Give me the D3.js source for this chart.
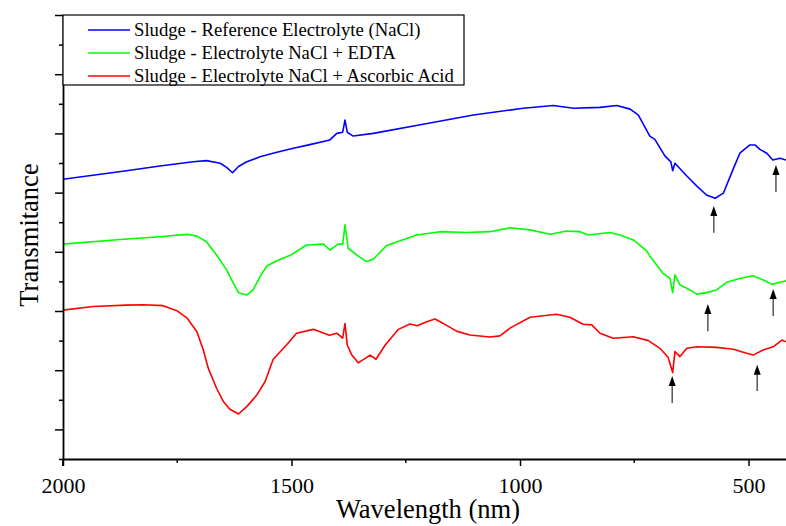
<!DOCTYPE html>
<html>
<head>
<meta charset="utf-8">
<script src="https://d3js.org/d3.v7.min.js"></script>
<style>
  body { margin: 0; background: #fff; }
</style>
</head>
<body>
<div id="vis"><svg></svg></div>
<script>
var width = 786, height = 526
var margin = { top: 15, left: 63, bottom: 67, right: 0 }
var serif = "'Liberation Serif', 'Times New Roman', Times, serif"

// wavelength (nm) and transmittance (a.u.)
var seriesNames = ['Sludge - Reference Electrolyte (NaCl)', 'Sludge - Electrolyte NaCl + EDTA', 'Sludge - Electrolyte NaCl + Ascorbic Acid']
var seriesColors = ['#0000ff', '#00ff00', '#ff0000']

var blueNm = [2000,1861,1788,1715,1686,1656,1642,1629,1616,1598,1569,1532,1496,1460,1416,1401,1388,1383,1378,1365,1321,1212,1102,993,927,883,825,788,759,741,716,705,683,670,666,661,635,613,592,573,555,533,519,497,486,475,460,447,431,418]
var blueT = [9.45,9.74,9.90,10.04,10.08,9.99,9.85,9.67,9.88,10.04,10.21,10.36,10.50,10.62,10.78,11.00,11.04,11.45,11.04,10.91,11.00,11.31,11.62,11.85,11.94,11.85,11.88,11.94,11.82,11.62,10.91,10.80,10.24,10.04,9.74,9.99,9.56,9.22,8.92,8.81,8.98,9.82,10.33,10.61,10.61,10.46,10.33,10.10,10.16,10.10]

var greenNm = [2000,1861,1788,1729,1707,1686,1664,1642,1631,1616,1598,1584,1569,1554,1532,1503,1467,1430,1416,1398,1388,1383,1376,1357,1336,1321,1292,1226,1175,1117,1066,1022,978,934,898,869,851,803,781,752,723,716,687,672,666,661,650,635,613,592,570,548,519,490,468,449,431,418]
var greenT = [7.26,7.43,7.51,7.59,7.53,7.34,6.89,6.39,6.05,5.62,5.54,5.71,6.16,6.52,6.70,6.88,7.23,7.26,7.06,7.26,7.26,7.91,7.12,6.89,6.67,6.75,7.21,7.57,7.68,7.65,7.68,7.81,7.74,7.59,7.70,7.68,7.57,7.65,7.57,7.40,7.03,6.86,6.27,6.10,5.62,6.22,5.88,5.77,5.57,5.62,5.71,5.97,6.10,6.19,6.05,5.90,5.97,6.02]

var redNm = [2000,1934,1861,1824,1781,1751,1729,1707,1693,1682,1664,1649,1635,1616,1598,1576,1558,1540,1511,1489,1452,1417,1401,1388,1383,1378,1368,1354,1328,1315,1295,1266,1241,1225,1204,1186,1168,1139,1110,1066,1044,1022,978,920,891,862,843,825,796,752,719,694,676,666,661,650,635,613,570,533,504,490,468,446,427,418]
var redT = [5.03,5.15,5.20,5.21,5.18,5.01,4.77,4.30,3.68,3.06,2.39,1.94,1.68,1.52,1.77,2.16,2.61,3.37,3.85,4.25,4.38,4.18,4.25,4.08,4.58,3.85,3.51,3.25,3.51,3.37,3.85,4.38,4.56,4.50,4.64,4.73,4.58,4.32,4.19,4.12,4.16,4.42,4.79,4.89,4.79,4.55,4.53,4.25,4.08,4.13,4.00,3.74,3.44,2.92,3.63,3.46,3.74,3.79,3.77,3.71,3.57,3.51,3.68,3.79,4.02,3.96]

// arrows: wavelength, tip, tail
var arrowNm = [576, 440, 589, 446, 667, 481]
var arrowTip = [8.55, 9.93, 5.24, 5.74, 2.80, 3.18]
var arrowTail = [7.64, 9.02, 4.32, 4.83, 1.89, 2.30]

var xTicks = [2000, 1500, 1000, 500]
var xMinor = [1750, 1250, 750]

var svg = d3.select('#vis').select('svg')
  .attr('width', width).attr('height', height)
  .style('font-family', serif)

var plotW = width - margin.left - margin.right
var plotH = height - margin.top - margin.bottom

var x = d3.scaleLinear().domain([2000, 418]).range([0, plotW])
var y = d3.scaleLinear().domain([0, 15]).range([plotH, 0])

var g = svg.append('g')
  .attr('transform', 'translate(' + margin.left + ',' + margin.top + ')')

var series = [
  blueNm.map((d, i) => ({ nm: d, t: blueT[i] })),
  greenNm.map((d, i) => ({ nm: d, t: greenT[i] })),
  redNm.map((d, i) => ({ nm: d, t: redT[i] }))
]

var line = d3.line().x(d => x(d.nm)).y(d => y(d.t))

g.selectAll('.spec')
  .data(series)
  .enter().append('path')
  .attr('class', 'spec')
  .attr('fill', 'none')
  .attr('stroke', (d, i) => seriesColors[i])
  .attr('stroke-width', 1.6)
  .attr('stroke-linejoin', 'round')
  .attr('d', line)

// arrows
var arrows = g.selectAll('.arrow')
  .data(arrowNm)
  .enter().append('g').attr('class', 'arrow')
arrows.append('line')
  .attr('x1', d => x(d)).attr('x2', d => x(d))
  .attr('y1', (d, i) => y(arrowTip[i]) + 6)
  .attr('y2', (d, i) => y(arrowTail[i]))
  .attr('stroke', '#555').attr('stroke-width', 1.5)
arrows.append('path')
  .attr('d', (d, i) => {
    var ax = x(d), ay = y(arrowTip[i])
    return 'M' + ax + ',' + ay + 'L' + (ax - 3.5) + ',' + (ay + 10) + 'L' + (ax + 3.5) + ',' + (ay + 10) + 'Z'
  })
  .attr('fill', '#000')

// x axis
var xAxis = d3.axisBottom(x).tickValues(xTicks).tickSize(7).tickSizeOuter(0).tickFormat(d3.format('d'))
var gx = g.append('g').attr('transform', 'translate(0,' + plotH + ')').call(xAxis)
gx.attr('font-family', null).attr('font-size', null)
gx.select('.domain').attr('stroke-width', 1.8)
gx.selectAll('.tick line').attr('stroke-width', 1.5)
gx.selectAll('.tick text').attr('y', 34).attr('dy', null)
  .style('font-family', serif).style('font-size', '22px')
gx.selectAll('.minor')
  .data(xMinor)
  .enter().append('line')
  .attr('class', 'minor')
  .attr('x1', d => x(d)).attr('x2', d => x(d))
  .attr('y1', 0).attr('y2', 4)
  .attr('stroke', '#000').attr('stroke-width', 1.5)

// y axis, no labels; major ticks on odd units
var yAxis = d3.axisLeft(y).ticks(15).tickSizeOuter(0).tickFormat('')
var gy = g.append('g').call(yAxis)
gy.select('.domain').attr('stroke-width', 1.8)
gy.selectAll('.tick line')
  .attr('x2', d => (d % 2 === 1 ? -8 : -4))
  .attr('stroke-width', 1.5)
gy.append('line').attr('x1', 0).attr('x2', 0).attr('y1', plotH).attr('y2', plotH + 7)
  .attr('stroke', '#000').attr('stroke-width', 1.8)

// axis titles
svg.append('text')
  .attr('x', 428).attr('y', 518)
  .attr('text-anchor', 'middle')
  .style('font-family', serif).style('font-size', '26.5px')
  .text('Wavelength (nm)')
svg.append('text')
  .attr('transform', 'translate(38,235) rotate(-90)')
  .attr('text-anchor', 'middle')
  .style('font-family', serif).style('font-size', '26.5px')
  .text('Transmitance')

// legend
var legend = g.append('g')
legend.append('rect')
  .attr('x', 0).attr('y', 0).attr('width', 401).attr('height', 70)
  .attr('fill', '#fff').attr('stroke', '#000').attr('stroke-width', 1.2)
var items = legend.selectAll('.item')
  .data(seriesNames)
  .enter().append('g')
  .attr('transform', (d, i) => 'translate(0,' + (15 + i * 23) + ')')
items.append('line')
  .attr('x1', 25).attr('x2', 67)
  .attr('stroke', (d, i) => seriesColors[i]).attr('stroke-width', 1.6)
items.append('text')
  .attr('x', 71).attr('y', 6)
  .style('font-family', serif).style('font-size', '18.7px')
  .text(d => d)
</script>
</body>
</html>
